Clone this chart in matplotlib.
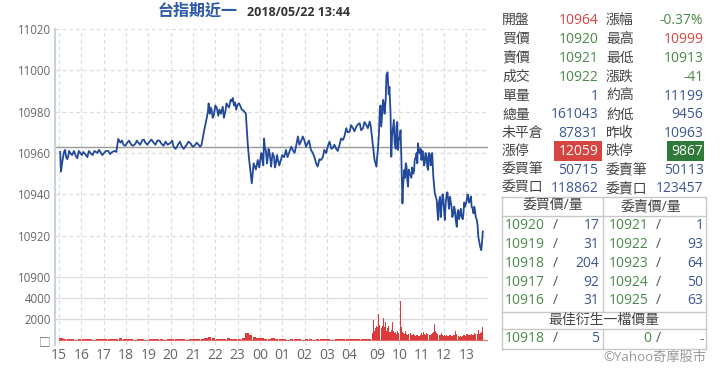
import matplotlib
matplotlib.use('Agg')
import matplotlib.pyplot as plt
from matplotlib.patches import Rectangle
from matplotlib.lines import Line2D

plt.rcParams['font.family'] = ['Open Sans', 'Noto Sans CJK TC', 'DejaVu Sans']

# ---------------- data ----------------
title_name = "台指期近一"
title_time = "2018/05/22 13:44"
prev_close = 10963

price_times = [
    "15:03", "15:05", "15:08", "15:13", "15:16", "15:22", "15:24", "15:30", "15:35", "15:40",
    "15:49", "15:57", "16:05", "16:10", "16:16", "16:24", "16:35", "16:43", "16:51", "17:01",
    "17:12", "17:23", "17:34", "17:39", "17:45", "17:53", "18:03", "18:14", "18:25", "18:33",
    "18:44", "18:52", "19:03", "19:14", "19:24", "19:35", "19:46", "20:00", "20:08", "20:13",
    "20:21", "20:29", "20:35", "20:43", "20:54", "21:04", "21:15", "21:23", "21:29", "21:34",
    "21:40", "21:42", "21:45", "21:50", "21:56", "22:04", "22:15", "22:20", "22:23", "22:33",
    "22:41", "22:47", "22:50", "23:00", "23:08", "23:14", "23:18", "23:22", "23:27", "23:30",
    "23:35", "23:38", "23:43", "23:49", "23:54", "00:02", "00:07", "00:11", "00:16", "00:21",
    "00:25", "00:30", "00:38", "00:43", "00:48", "00:56", "01:05", "01:10", "01:19", "01:28",
    "01:37", "01:42", "01:50", "01:59", "02:08", "02:17", "02:26", "02:35", "02:44", "02:53",
    "03:02", "03:07", "03:16", "03:25", "03:34", "03:43", "03:52", "04:01", "04:10", "04:19",
    "04:28", "04:37", "04:46", "04:55", "04:58",
    "08:49", "08:53", "08:58", "09:02", "09:07", "09:11", "09:16", "09:20", "09:25", "09:28",
    "09:31", "09:36", "09:38", "09:43", "09:47", "09:52", "09:56", "10:01", "10:05", "10:08",
    "10:13", "10:19", "10:23", "10:28", "10:32", "10:37", "10:41", "10:46", "10:50", "10:55",
    "10:59", "11:04", "11:08", "11:13", "11:17", "11:22", "11:26", "11:31", "11:35", "11:40",
    "11:44", "11:49", "11:53", "11:58", "12:02", "12:07", "12:11", "12:16", "12:20", "12:25",
    "12:29", "12:34", "12:38", "12:43", "12:47", "12:52", "12:56", "13:01", "13:05", "13:10",
    "13:14", "13:19", "13:23", "13:28", "13:32", "13:37", "13:40", "13:42", "13:44",
]
price_values = [
    10960.5, 10951, 10955, 10960.5, 10961.5, 10957, 10958, 10960, 10959, 10961,
    10957.5, 10960, 10960.5, 10959.5, 10958, 10960, 10961, 10960, 10960.5, 10960,
    10961, 10960.5, 10960.5, 10966.8, 10965, 10964, 10965, 10964, 10964.5, 10965,
    10966.3, 10965, 10965.5, 10965, 10966, 10964.5, 10965.5, 10965, 10963, 10962,
    10964.5, 10963.5, 10962, 10964, 10964.5, 10963.5, 10964, 10964, 10970, 10974.4,
    10980, 10984, 10979, 10981, 10978.4, 10981.8, 10979, 10982.4, 10977, 10983,
    10985.7, 10986.6, 10983, 10983.5, 10982.4, 10980.8, 10980, 10979.2, 10964.7, 10958.2,
    10950, 10945.3, 10955, 10952, 10956.6, 10958.2, 10956, 10967, 10961, 10958,
    10961, 10953.4, 10958.2, 10955, 10957, 10956.6, 10958, 10961.5, 10960.5, 10961.5,
    10963.2, 10968, 10965.5, 10966.3, 10964.7, 10961.5, 10958.2, 10953.4, 10956.6, 10961.5,
    10963, 10965.5, 10962.5, 10962, 10964, 10966.3, 10972, 10970.3, 10972, 10972.8,
    10974.4, 10972, 10973.5, 10975.2, 10972.8,
    10962.8, 10956.6, 10953.4, 10961.5, 10980.8, 10972.8, 10985.7, 10979, 10997.8, 10999,
    10988.5, 10979.2, 10958.2, 10972.8, 10964.7, 10972.8, 10961.5, 10968, 10958.2, 10935.6,
    10951.8, 10953.4, 10943.7, 10950, 10948, 10950, 10956.6, 10960, 10964.7, 10959.8,
    10956.6, 10958.2, 10955, 10958.2, 10951.8, 10959, 10958.2, 10948.5, 10940.5, 10937.3,
    10927.6, 10938.8, 10934, 10937.3, 10927.6, 10940.5, 10937.3, 10938.8, 10934, 10930.8,
    10932.4, 10924.3, 10932.4, 10930.8, 10929.2, 10930.8, 10934, 10937.3, 10938.8, 10937.3,
    10934, 10930.8, 10932.4, 10927.6, 10919.5, 10914.6, 10913, 10917, 10922,
]
# extra ticks read between the points above (the short up/down swings of the line)
detail_times = [
    "15:19", "15:27", "15:45", "15:53", "16:01", "16:20", "16:30", "16:47", "16:56", "17:06",
    "17:17", "17:29", "17:49", "17:58", "18:08", "18:19", "18:29", "18:38", "18:48", "18:57",
    "19:08", "19:19", "19:30", "19:41", "19:52", "20:04", "20:17", "20:25", "20:39", "20:48",
    "20:59", "21:10", "21:19", "21:37", "21:47", "21:53", "22:00", "22:08", "22:11", "22:27",
    "22:30", "22:37", "22:44", "22:53", "22:56", "23:04", "23:11", "23:58", "00:04", "00:09",
    "00:13", "00:19", "00:23", "00:28", "00:34", "00:40", "00:46", "00:52", "01:00", "01:14",
    "01:24", "01:33", "01:46", "01:55", "02:04", "02:12", "02:22", "02:31", "02:40", "02:49",
    "02:58", "03:12", "03:20", "03:29", "03:38", "03:47", "03:56", "04:05", "04:14", "04:24",
    "04:32", "04:41", "04:50", "09:00", "09:05", "09:09", "09:13", "09:18", "09:23", "09:33",
    "09:40", "09:45", "09:50", "09:54", "09:58", "10:03", "10:10", "10:15", "10:17", "10:21",
    "10:25", "10:34", "10:39", "10:44", "10:48", "10:52", "10:57", "11:02", "11:06", "11:10",
    "11:15", "11:19", "11:24", "11:28", "11:42", "11:46", "11:51", "11:56", "12:00", "12:04",
    "12:09", "12:13", "12:18", "12:22", "12:27", "12:31", "12:36", "12:40", "12:45", "12:50",
    "12:54", "12:58", "13:03", "13:07", "13:12", "13:17", "13:21", "13:25", "13:30",
]
detail_values = [
    10958, 10961, 10958.5, 10961, 10959, 10961, 10959, 10961.5, 10959, 10961,
    10959.5, 10961, 10966, 10963.5, 10966, 10963.5, 10966, 10964, 10966.5, 10964,
    10966.5, 10964, 10966, 10963.5, 10964, 10966, 10963, 10965.5, 10963, 10965.5,
    10963, 10965, 10963, 10977, 10982, 10977, 10983, 10978, 10981, 10980,
    10984, 10982, 10985, 10984.5, 10981, 10984, 10981, 10953, 10960, 10954,
    10963, 10955, 10962, 10957, 10960, 10953, 10959, 10954, 10959, 10958,
    10963, 10960, 10964, 10968, 10963, 10966, 10960, 10955, 10957, 10958,
    10960, 10962, 10964, 10961, 10967, 10968, 10970, 10973.5, 10970.5, 10974,
    10971, 10975, 10972, 10958, 10970, 10983, 10978, 10984, 10986, 10992,
    10968, 10976, 10962, 10975, 10966, 10971, 10945, 10948, 10955, 10947,
    10952, 10953, 10951, 10958, 10955, 10961, 10962, 10961, 10954, 10960,
    10953, 10960, 10954, 10960, 10932, 10936, 10929, 10940, 10932, 10935,
    10941, 10933, 10936, 10929, 10934, 10928, 10931, 10928, 10933, 10928,
    10936, 10935, 10940, 10936, 10939, 10933, 10934, 10929, 10925,
]

# volume: night session in 10-minute bins from 15:00, day session in 3-minute bins from 08:45
night_volume = [
    150, 120, 100, 80, 0, 90, 100, 80, 90, 0,
    80, 90, 100, 80, 90, 100, 180, 120, 90, 80,
    0, 70, 80, 0, 70, 80, 90, 70, 0, 80,
    70, 90, 80, 70, 0, 80, 90, 100, 120, 220,
    250, 180, 120, 100, 90, 160, 110, 100, 120, 200,
    620, 450, 250, 150, 200, 120, 100, 180, 100, 90,
    80, 0, 80, 90, 70, 0, 80, 70, 0, 80,
    90, 70, 80, 0, 70, 80, 90, 70, 80, 90,
    70, 80, 90, 80,
]
day_volume = [
    700, 1900, 900, 1100, 1300, 1200, 2500, 1400, 1100, 1300,
    2100, 1200, 1700, 900, 1100, 1300, 800, 1000, 1700, 900,
    700, 800, 600, 900, 700, 3700, 1200, 800, 700, 600,
    900, 600, 500, 600, 700, 500, 450, 600, 500, 400,
    450, 500, 400, 450, 650, 500, 800, 600, 500, 700,
    550, 500, 450, 600, 700, 800, 1500, 900, 700, 600,
    500, 450, 700, 500, 400, 450, 400, 500, 400, 450,
    500, 400, 350, 450, 500, 850, 600, 400, 300, 350,
    300, 400, 450, 500, 400, 600, 500, 450, 500, 600,
    450, 500, 700, 550, 600, 1000, 600, 700, 800, 1200,
]

x_tick_times = ["15:00", "16:00", "17:00", "18:00", "19:00", "20:00", "21:00", "22:00",
                "23:00", "00:00", "01:00", "02:00", "03:00", "04:00",
                "09:00", "10:00", "11:00", "12:00", "13:00"]
x_tick_labels = ["15", "16", "17", "18", "19", "20", "21", "22", "23", "00", "01",
                 "02", "03", "04", "09", "10", "11", "12", "13"]
price_ticks = [10900, 10920, 10940, 10960, 10980, 11000, 11020]
vol_ticks = [0, 2000, 4000]
vol_tick_labels = ["□", "2000", "4000"]

quote_left_labels = ["開盤", "買價", "賣價", "成交", "單量", "總量", "未平倉", "漲停", "委買筆", "委買口"]
quote_left_values = ["10964", "10920", "10921", "10922", "1", "161043", "87831", "12059", "50715", "118862"]
quote_left_kinds = ["red", "green", "green", "green", "blue", "blue", "blue", "redbox", "blue", "blue"]
quote_right_labels = ["漲幅", "最高", "最低", "漲跌", "約高", "約低", "昨收", "跌停", "委賣筆", "委賣口"]
quote_right_values = ["-0.37%", "10999", "10913", "-41", "11199", "9456", "10963", "9867", "50113", "123457"]
quote_right_kinds = ["green", "red", "green", "green", "blue", "blue", "blue", "greenbox", "blue", "blue"]

bid_prices = ["10920", "10919", "10918", "10917", "10916"]
bid_qty = ["17", "31", "204", "92", "31"]
ask_prices = ["10921", "10922", "10923", "10924", "10925"]
ask_qty = ["1", "93", "64", "50", "63"]
best_bid = ("10918", "5")
best_ask = ("0", "-")

# ---------------- helpers ----------------
W, H = 720, 371
BLUE_LINE = '#22499a'
C_RED = '#d64541'
C_GREEN = '#4a8a4a'
C_BLUE = '#3d5795'
C_LABEL = '#444444'
C_GRID = '#dddddd'
kind_color = {"red": C_RED, "green": C_GREEN, "blue": C_BLUE}


def to_idx(t):
    h, m = map(int, t.split(':'))
    if h >= 15 or h < 5 or (h == 5 and m == 0):
        return ((h - 15) % 24) * 60 + m
    return 840 + h * 60 + m - 525


def fx(x):
    return x / W


def fy(y):
    return 1 - y / H


fig = plt.figure(figsize=(W / 100, H / 100), dpi=100)


def ftext(x, y, s, **kw):
    fig.text(fx(x), fy(y), s, **kw)


def fline(x0, y0, x1, y1, color='#c8c8c8', lw=1.0):
    fig.add_artist(Line2D([fx(x0), fx(x1)], [fy(y0), fy(y1)], transform=fig.transFigure,
                          color=color, lw=lw))


# ---------------- axes ----------------
ax_l, ax_r = 55, 488
top_main, bot_main, bot_vol = 29, 277, 345
ax = fig.add_axes([fx(ax_l), fy(bot_main), (ax_r - ax_l) / W, (bot_main - top_main) / H])
axv = fig.add_axes([fx(ax_l), fy(bot_vol), (ax_r - ax_l) / W, (bot_vol - bot_main) / H], sharex=ax)

xmin, xmax = -11, 1153
xt = [to_idx(t) for t in x_tick_times]

for a in (ax, axv):
    a.set_facecolor('none')
    for s in ('top', 'right', 'bottom'):
        a.spines[s].set_visible(False)
    a.spines['left'].set_color('#c8d2de')
    a.spines['left'].set_linewidth(1.5)
    a.tick_params(length=0, colors='#666666')
    for x in xt:
        a.axvline(x, color=C_GRID, lw=0.9, ls=(0, (3, 2.5)), zorder=0)

ax.set_xlim(xmin, xmax)
ax.set_ylim(10900, 11020)
ax.set_yticks(price_ticks)
ax.set_yticklabels([str(v) for v in price_ticks], fontsize=8.3, color='#666666')
ax.tick_params(axis='y', pad=3)
ax.tick_params(axis='x', labelbottom=False)
for v in price_ticks[1:]:
    ax.axhline(v, color=C_GRID, lw=0.9, ls=(0, (3, 2.5)), zorder=0)

ax.axhline(prev_close, color='#9a9a9a', lw=1.0, zorder=1)
pts = sorted(zip([to_idx(t) for t in price_times + detail_times], price_values + detail_values))
ax.plot([p[0] for p in pts], [p[1] for p in pts], color=BLUE_LINE, lw=1.3, zorder=3)

# volume
axv.set_ylim(-476, 6000)
axv.set_yticks(vol_ticks)
axv.set_yticklabels(vol_tick_labels, fontsize=8.3, color='#666666')
axv.tick_params(axis='y', pad=3)
for v in (2000, 4000, 6000):
    axv.axhline(v, color=C_GRID, lw=1.0, zorder=0)
night_x = [10 * i + 5 for i in range(len(night_volume))]
day_x = [840 + 3 * i + 1.5 for i in range(len(day_volume))]
axv.bar(night_x, night_volume, width=9, color='#dd3b3b', linewidth=0, zorder=2)
axv.bar(day_x, day_volume, width=2.8, color='#dd3b3b', linewidth=0, zorder=2)
axv.axhline(0, xmin=0.01, color='#e46a6a', lw=0.8, zorder=1)
axv.set_xticks(xt)
axv.set_xticklabels(x_tick_labels, fontsize=10, color='#666666')
axv.tick_params(axis='x', pad=2)

# ---------------- title ----------------
ftext(238, 12, title_name, ha='right', va='center', fontsize=11.5, fontweight='bold', color='#2b5aa8')
ftext(350, 12.5, title_time, ha='right', va='center', fontsize=9, fontweight='bold', color='#333333')

# ---------------- quote panel ----------------
row_y = [20.7, 39.3, 58.3, 77.3, 96.7, 115, 133.5, 151.5, 170, 188.5]
FS = 10
for i in range(len(row_y)):
    y = row_y[i]
    ftext(502, y, quote_left_labels[i], ha='left', va='center', fontsize=FS, color=C_LABEL)
    ftext(606, y, quote_right_labels[i], ha='left', va='center', fontsize=FS, color=C_LABEL)
    kl = quote_left_kinds[i]
    kr = quote_right_kinds[i]
    if kl == 'redbox':
        fig.add_artist(Rectangle((fx(554), fy(161)), 48 / W, 20 / H, transform=fig.transFigure,
                                 color=C_RED, lw=0))
        ftext(598.5, y, quote_left_values[i], ha='right', va='center', fontsize=FS, color='white')
    else:
        ftext(598.5, y, quote_left_values[i], ha='right', va='center', fontsize=FS, color=kind_color[kl])
    if kr == 'greenbox':
        fig.add_artist(Rectangle((fx(666.5), fy(161)), 37 / W, 20 / H, transform=fig.transFigure,
                                 color='#2f7a38', lw=0))
        ftext(703.5, y, quote_right_values[i], ha='right', va='center', fontsize=FS, color='white')
    else:
        ftext(703.5, y, quote_right_values[i], ha='right', va='center', fontsize=FS, color=kind_color[kr])

# order book table
tl, tr, tdiv = 502, 706, 603
t_top, t_head, t_rows, t_best, t_bot = 197, 216, 312, 329, 349
for yy in (t_top, t_head, t_rows, t_best, t_bot):
    fline(tl, yy, tr, yy)
fline(tl, t_top, tl, t_bot)
fline(tr, t_top, tr, t_bot)
fline(tdiv, t_top, tdiv, t_rows)
fline(tdiv, t_best, tdiv, t_bot)

ftext(553, 206.7, "委買價/量", ha='center', va='center', fontsize=FS, color=C_LABEL)
ftext(651, 206.7, "委賣價/量", ha='center', va='center', fontsize=FS, color=C_LABEL)
book_y = [225.7, 244.5, 263.5, 282.3, 301]
for i, y in enumerate(book_y):
    ftext(505, y, bid_prices[i], ha='left', va='center', fontsize=FS, color=C_GREEN)
    ftext(555.5, y, "/", ha='center', va='center', fontsize=FS, color='#555555')
    ftext(599.5, y, bid_qty[i], ha='right', va='center', fontsize=FS, color=C_BLUE)
    ftext(609, y, ask_prices[i], ha='left', va='center', fontsize=FS, color=C_GREEN)
    ftext(658.5, y, "/", ha='center', va='center', fontsize=FS, color='#555555')
    ftext(703.5, y, ask_qty[i], ha='right', va='center', fontsize=FS, color=C_BLUE)

ftext(604, 320.5, "最佳衍生一檔價量", ha='center', va='center', fontsize=FS, color=C_LABEL)
ftext(505, 339, best_bid[0], ha='left', va='center', fontsize=FS, color=C_GREEN)
ftext(555.5, 339, "/", ha='center', va='center', fontsize=FS, color='#555555')
ftext(599.5, 339, best_bid[1], ha='right', va='center', fontsize=FS, color=C_BLUE)
ftext(651, 339, best_ask[0], ha='right', va='center', fontsize=FS, color=C_GREEN)
ftext(658, 339, "/", ha='center', va='center', fontsize=FS, color='#555555')
ftext(703.5, 339, best_ask[1], ha='right', va='center', fontsize=FS, color='#777777')

ftext(706, 357, "©Yahoo奇摩股市", ha='right', va='center', fontsize=9.5, color='#9a9a9a')

fig.savefig('out.png', dpi=100, facecolor='white')
